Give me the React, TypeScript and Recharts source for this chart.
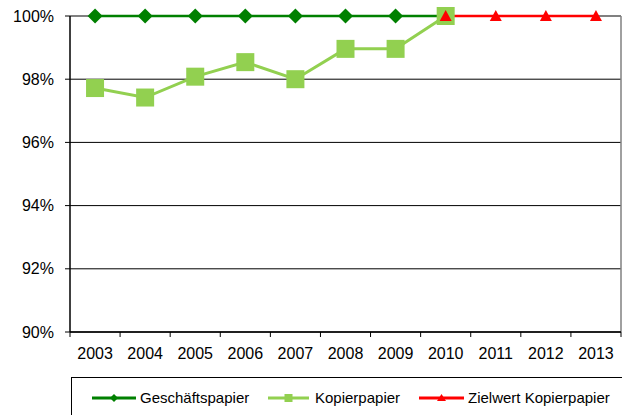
import React from 'react';
import {
  LineChart,
  Line,
  XAxis,
  YAxis,
  CartesianGrid,
  ReferenceLine,
  Legend,
} from 'recharts';

document.body.style.margin = '0';

const YEARS = [2003, 2004, 2005, 2006, 2007, 2008, 2009, 2010, 2011, 2012, 2013];
const GESCHAEFTSPAPIER = [100, 100, 100, 100, 100, 100, 100, 100, null, null, null];
const KOPIERPAPIER = [97.72, 97.42, 98.08, 98.54, 98.0, 98.96, 98.96, 100, null, null, null];
const ZIELWERT = [null, null, null, null, null, null, null, 100, 100, 100, 100];
const Y_TICKS = [90, 92, 94, 96, 98, 100];

const DARK_GREEN = '#008000';
const LIGHT_GREEN = '#92D050';
const RED = '#FF0000';
const FONT = '"Liberation Sans", Arial, sans-serif';

const data = YEARS.map((year, i) => ({
  year,
  geschaeft: GESCHAEFTSPAPIER[i],
  kopier: KOPIERPAPIER[i],
  ziel: ZIELWERT[i],
}));

// tick marks sit between the years, labels on the years
const xTicks = YEARS.flatMap((y) => [y - 0.5, y]).concat(YEARS[YEARS.length - 1] + 0.5);

const XTick = (props: any) => {
  const { x, y, payload } = props;
  const v = payload.value;
  if (v % 1 !== 0) {
    return <line x1={x} x2={x} y1={y} y2={y + 5} stroke="#000" strokeWidth={1} />;
  }
  return (
    <text x={x} y={y + 21} textAnchor="middle" dominantBaseline="central" fill="#000" fontSize={16} fontFamily={FONT}>
      {v}
    </text>
  );
};

const Diamond = (props: any) => {
  const { cx, cy, index } = props;
  if (cx == null || cy == null) return <g key={`gd-${index}`} />;
  const r = 7.5;
  return <path key={`gd-${index}`} d={`M${cx},${cy - r}L${cx + r},${cy}L${cx},${cy + r}L${cx - r},${cy}Z`} fill={DARK_GREEN} />;
};

const Square = (props: any) => {
  const { cx, cy, index } = props;
  if (cx == null || cy == null) return <g key={`ks-${index}`} />;
  const s = 9;
  return <rect key={`ks-${index}`} x={cx - s} y={cy - s} width={s * 2} height={s * 2} fill={LIGHT_GREEN} />;
};

const Triangle = (props: any) => {
  const { cx, cy, index } = props;
  if (cx == null || cy == null) return <g key={`zt-${index}`} />;
  return <path key={`zt-${index}`} d={`M${cx},${cy - 6}L${cx + 6},${cy + 5}L${cx - 6},${cy + 5}Z`} fill={RED} />;
};

const LEGEND_ITEMS = [
  { label: 'Geschäftspapier', color: DARK_GREEN, marker: 'diamond', lineW: 44, gap: 4, left: 20 },
  { label: 'Kopierpapier', color: LIGHT_GREEN, marker: 'square', lineW: 41, gap: 6, left: 196 },
  { label: 'Zielwert Kopierpapier', color: RED, marker: 'triangle', lineW: 45, gap: 4, left: 347 },
];

const LegendMark = ({ color, marker, w }: { color: string; marker: string; w: number }) => {
  const c = w / 2;
  return (
    <svg width={w} height={10} style={{ display: 'block' }}>
      <line x1={0} x2={w} y1={5} y2={5} stroke={color} strokeWidth={3} />
      {marker === 'diamond' && <path d={`M${c},1L${c + 4},5L${c},9L${c - 4},5Z`} fill={color} />}
      {marker === 'square' && <rect x={c - 4} y={1} width={8} height={8} fill={color} />}
      {marker === 'triangle' && <path d={`M${c},1L${c + 4.5},8L${c - 4.5},8Z`} fill={color} />}
    </svg>
  );
};

const renderLegend = () => (
  <div
    style={{
      position: 'relative',
      height: 46,
      border: '1px solid #000',
      boxSizing: 'border-box',
      fontFamily: FONT,
      fontSize: 15,
      color: '#000',
    }}
  >
    {LEGEND_ITEMS.map((it) => (
      <div key={it.label} style={{ position: 'absolute', left: it.left, top: 11, display: 'flex', alignItems: 'center' }}>
        <LegendMark color={it.color} marker={it.marker} w={it.lineW} />
        <span style={{ marginLeft: it.gap, whiteSpace: 'nowrap' }}>{it.label}</span>
      </div>
    ))}
  </div>
);

export default function App() {
  return (
    <div style={{ width: 622, height: 415, overflow: 'hidden', background: '#fff' }}>
      <LineChart width={622} height={415} data={data} margin={{ top: 16, right: 1, left: 0, bottom: 0 }}>
        <CartesianGrid vertical={false} stroke="#000" strokeWidth={1} />
        <ReferenceLine y={100} stroke="#808080" strokeWidth={1.5} />
        <ReferenceLine x={2013.5} stroke="#808080" strokeWidth={1.5} />
        <XAxis
          dataKey="year"
          type="number"
          domain={[2002.5, 2013.5]}
          ticks={xTicks}
          interval={0}
          tickLine={false}
          tickSize={0}
          tickMargin={0}
          tick={<XTick />}
          axisLine={{ stroke: '#000', strokeWidth: 1.5 }}
          height={45}
        />
        <YAxis
          domain={[90, 100]}
          ticks={Y_TICKS}
          interval={0}
          width={70}
          tickSize={5}
          tickMargin={11}
          tickFormatter={(v: number) => `${v}%`}
          tick={{ fill: '#000', fontSize: 16, fontFamily: FONT }}
          tickLine={{ stroke: '#000' }}
          axisLine={{ stroke: '#000', strokeWidth: 1.5 }}
        />
        <Legend verticalAlign="bottom" height={38} wrapperStyle={{ left: 71, width: 560 }} content={renderLegend} />
        <Line
          dataKey="geschaeft"
          name="Geschäftspapier"
          stroke={DARK_GREEN}
          strokeWidth={2.5}
          dot={Diamond}
          activeDot={false}
          isAnimationActive={false}
        />
        <Line
          dataKey="kopier"
          name="Kopierpapier"
          stroke={LIGHT_GREEN}
          strokeWidth={3}
          dot={Square}
          activeDot={false}
          isAnimationActive={false}
        />
        <Line
          dataKey="ziel"
          name="Zielwert Kopierpapier"
          stroke={RED}
          strokeWidth={2.5}
          dot={Triangle}
          activeDot={false}
          isAnimationActive={false}
        />
      </LineChart>
    </div>
  );
}
